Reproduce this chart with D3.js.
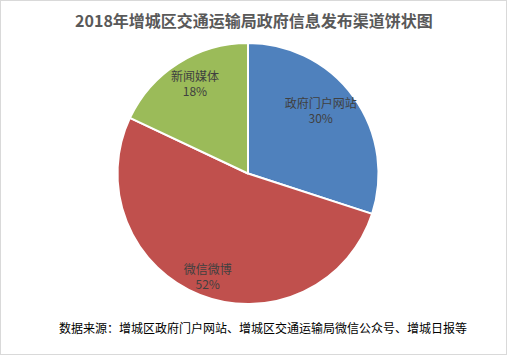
<!DOCTYPE html>
<html><head><meta charset="utf-8">
<script src="https://cdn.jsdelivr.net/npm/d3@7"></script>
<style>html,body{margin:0;padding:0;background:#fff;}svg{display:block;}</style>
</head><body>
<svg id="chart" width="508" height="360"></svg>
<script>
const title = "2018年增城区交通运输局政府信息发布渠道饼状图";
const categories = ["政府门户网站", "微信微博", "新闻媒体"];
const values = [30, 52, 18];
const colors = ["#4f81bd", "#c0504d", "#9bbb59"];
const source = "数据来源：增城区政府门户网站、增城区交通运输局微信公众号、增城日报等";

const svg = d3.select("#chart");
const font = "'Noto Sans CJK SC','Microsoft YaHei',sans-serif";

svg.append("rect").attr("x", 0.5).attr("y", 0.5).attr("width", 506).attr("height", 354)
  .attr("fill", "#fff").attr("stroke", "#d9d9d9").attr("stroke-width", 1);

svg.append("text").attr("x", 254).attr("y", 20).attr("text-anchor", "middle")
  .attr("dominant-baseline", "central").attr("font-family", font).attr("font-size", 16)
  .attr("font-weight", "bold").attr("fill", "#595959").text(title);

const cx = 248, cy = 173.5, R = 130.5;
const data = categories.map((c, i) => ({cat: c, value: values[i], color: colors[i]}));
const pie = d3.pie().sort(null).value(d => d.value);
const arc = d3.arc().innerRadius(0).outerRadius(R);
const arcs = pie(data);

const g = svg.append("g").attr("transform", `translate(${cx},${cy})`);
g.selectAll("path").data(arcs).join("path")
  .attr("d", arc).attr("fill", d => d.data.color)
  .attr("stroke", "#fff").attr("stroke-width", 2).attr("stroke-linejoin", "round");

// label placement inside slices (best-fit style)
const labelRadius = {"政府门户网站": 0.74, "微信微博": 0.84, "新闻媒体": 0.81};
const labelAngleShift = {"政府门户网站": -0.09, "微信微博": 0, "新闻媒体": 0.04};
const fmt = d3.format(".0%");
const total = d3.sum(values);
arcs.forEach(a => {
  const mid = (a.startAngle + a.endAngle) / 2 + labelAngleShift[a.data.cat];
  const r = R * labelRadius[a.data.cat];
  const x = r * Math.sin(mid), y = -r * Math.cos(mid);
  const t = g.append("text").attr("text-anchor", "middle").attr("font-family", font)
    .attr("font-size", 12).attr("fill", "#404040");
  t.append("tspan").attr("x", x).attr("y", y - 7).attr("dominant-baseline", "central").text(a.data.cat);
  t.append("tspan").attr("x", x).attr("y", y + 8).attr("dominant-baseline", "central").text(fmt(a.data.value / total));
});

svg.append("text").attr("x", 59).attr("y", 327).attr("dominant-baseline", "central")
  .attr("font-family", font).attr("font-size", 12).attr("fill", "#000").text(source);
</script>
</body></html>
